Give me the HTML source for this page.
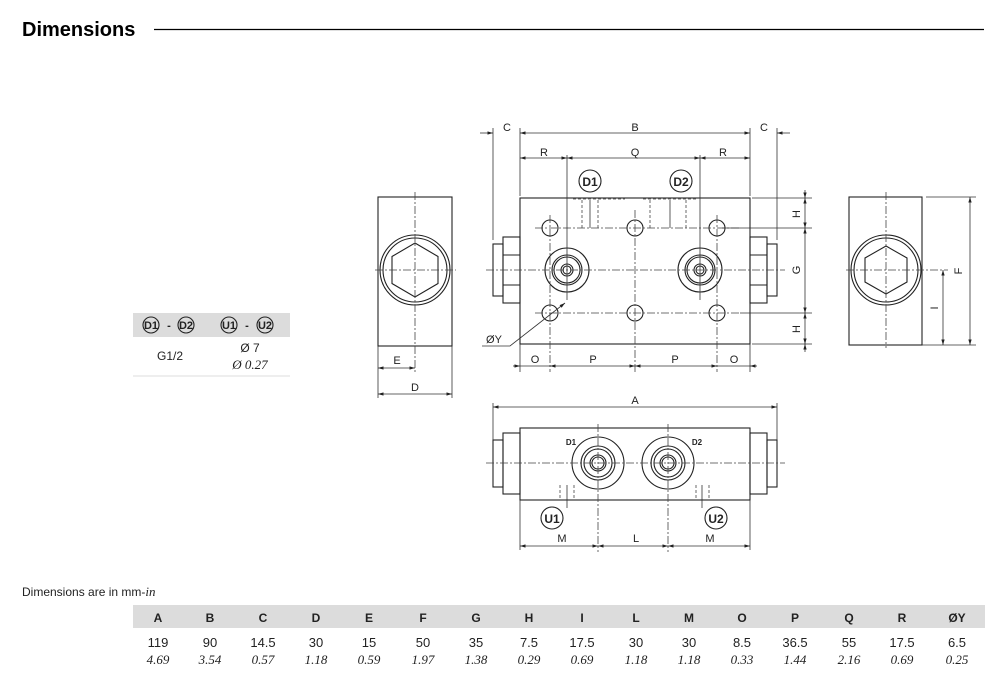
<!DOCTYPE html>
<html><head><meta charset="utf-8"><style>
body{margin:0;background:#fff;}
svg{display:block}
text{font-family:"Liberation Sans",sans-serif;fill:#222}
.l{stroke:#222;stroke-width:1.1;fill:none}
.t{stroke:#333;stroke-width:0.8;fill:none}
.c{stroke:#444;stroke-width:0.8;fill:none;stroke-dasharray:8 2 2 2}
.d{stroke:#444;stroke-width:0.8;fill:none;stroke-dasharray:3 2}
.lb{font-size:11px;text-anchor:middle}
.it,.it text{font-family:"Liberation Serif",serif;font-style:italic}
</style></head><body>
<svg width="1006" height="692" viewBox="0 0 1006 692" xmlns="http://www.w3.org/2000/svg">
<defs>
<marker id="a" viewBox="0 0 10 10" refX="10" refY="5" markerWidth="7" markerHeight="7" orient="auto-start-reverse"><path d="M0,2 L10,5 L0,8z" fill="#222"/></marker>
</defs>
<text x="22" y="36" style="font-size:20px;font-weight:bold;fill:#000">Dimensions</text>
<line x1="154" y1="29.5" x2="984" y2="29.5" stroke="#000" stroke-width="1.2"/>

<!-- FRONT VIEW -->
<rect x="520" y="198" width="230" height="146" class="l"/>
<g class="l">
<rect x="503" y="237" width="17" height="66"/><rect x="493" y="244" width="10" height="52"/>
<line x1="503" y1="255" x2="520" y2="255"/><line x1="503" y1="285" x2="520" y2="285"/>
<rect x="750" y="237" width="17" height="66"/><rect x="767" y="244" width="10" height="52"/>
<line x1="750" y1="255" x2="767" y2="255"/><line x1="750" y1="285" x2="767" y2="285"/>
<circle cx="567" cy="270" r="22"/><circle cx="567" cy="270" r="15"/><circle cx="567" cy="270" r="13"/><circle cx="567" cy="270" r="6"/><circle cx="567" cy="270" r="4"/>
<circle cx="700" cy="270" r="22"/><circle cx="700" cy="270" r="15"/><circle cx="700" cy="270" r="13"/><circle cx="700" cy="270" r="6"/><circle cx="700" cy="270" r="4"/>
<circle cx="550" cy="228" r="8"/><circle cx="635" cy="228" r="8"/><circle cx="717" cy="228" r="8"/>
<circle cx="550" cy="313" r="8"/><circle cx="635" cy="313" r="8"/><circle cx="717" cy="313" r="8"/>
</g>
<line x1="486" y1="270" x2="785" y2="270" class="c"/>
<line x1="535" y1="228" x2="740" y2="228" class="c"/>
<line x1="535" y1="313" x2="740" y2="313" class="c"/>
<line x1="635" y1="210" x2="635" y2="372" class="c"/>
<line x1="550" y1="215" x2="550" y2="372" class="c"/>
<line x1="717" y1="215" x2="717" y2="372" class="c"/>
<line x1="567" y1="155" x2="567" y2="300" class="t"/>
<line x1="700" y1="155" x2="700" y2="300" class="t"/>
<g class="d"><line x1="573" y1="199" x2="625" y2="199"/><line x1="643" y1="199" x2="697" y2="199"/>
<line x1="582" y1="200" x2="582" y2="228"/><line x1="598" y1="200" x2="598" y2="228"/><line x1="650" y1="200" x2="650" y2="228"/><line x1="686" y1="200" x2="686" y2="228"/></g>
<line x1="590" y1="200" x2="590" y2="228" class="t"/><line x1="670" y1="200" x2="670" y2="228" class="t"/>
<g class="t">
<line x1="493" y1="128" x2="493" y2="240"/><line x1="520" y1="128" x2="520" y2="196"/>
<line x1="750" y1="128" x2="750" y2="196"/><line x1="777" y1="128" x2="777" y2="240"/>
<line x1="480" y1="133" x2="493" y2="133" marker-end="url(#a)"/>
<line x1="520" y1="133" x2="750" y2="133" marker-start="url(#a)" marker-end="url(#a)"/>
<line x1="790" y1="133" x2="777" y2="133" marker-end="url(#a)"/>
<line x1="520" y1="158" x2="567" y2="158" marker-start="url(#a)" marker-end="url(#a)"/>
<line x1="567" y1="158" x2="700" y2="158" marker-start="url(#a)" marker-end="url(#a)"/>
<line x1="700" y1="158" x2="750" y2="158" marker-start="url(#a)" marker-end="url(#a)"/>
<line x1="752" y1="198" x2="812" y2="198"/><line x1="722" y1="228" x2="812" y2="228"/>
<line x1="740" y1="313" x2="812" y2="313"/><line x1="752" y1="344" x2="812" y2="344"/>
<line x1="805" y1="190" x2="805" y2="198" marker-end="url(#a)"/>
<line x1="805" y1="198" x2="805" y2="228" marker-start="url(#a)" marker-end="url(#a)"/>
<line x1="805" y1="228" x2="805" y2="313" marker-start="url(#a)" marker-end="url(#a)"/>
<line x1="805" y1="313" x2="805" y2="344" marker-start="url(#a)" marker-end="url(#a)"/>
<line x1="805" y1="352" x2="805" y2="344" marker-end="url(#a)"/>
<line x1="520" y1="344" x2="520" y2="372"/><line x1="750" y1="344" x2="750" y2="372"/>
<line x1="513" y1="366" x2="520" y2="366" marker-end="url(#a)"/>
<line x1="550" y1="366" x2="635" y2="366" marker-start="url(#a)" marker-end="url(#a)"/>
<line x1="635" y1="366" x2="717" y2="366" marker-start="url(#a)" marker-end="url(#a)"/>
<line x1="757" y1="366" x2="750" y2="366" marker-end="url(#a)"/>
<line x1="520" y1="366" x2="550" y2="366"/><line x1="717" y1="366" x2="750" y2="366"/>
<polyline points="482,346 510,346 565,303" marker-end="url(#a)"/>
</g>
<g class="lb">
<text x="507" y="131">C</text><text x="635" y="131">B</text><text x="764" y="131">C</text>
<text x="544" y="156">R</text><text x="635" y="156">Q</text><text x="723" y="156">R</text>
<text x="535" y="363">O</text><text x="593" y="363">P</text><text x="675" y="363">P</text><text x="734" y="363">O</text>
<text x="494" y="343">ØY</text>
</g>
<g class="lb">
<text transform="translate(800,214) rotate(-90)">H</text>
<text transform="translate(800,270) rotate(-90)">G</text>
<text transform="translate(800,329) rotate(-90)">H</text>
</g>
<circle cx="590" cy="181" r="11" class="l"/><text x="590" y="186" class="lb" style="font-weight:bold;font-size:12px">D1</text>
<circle cx="681" cy="181" r="11" class="l"/><text x="681" y="186" class="lb" style="font-weight:bold;font-size:12px">D2</text>

<!-- LEFT SIDE VIEW -->
<rect x="378" y="197" width="74" height="149" class="l"/>
<circle cx="415" cy="270" r="35" class="l"/><circle cx="415" cy="270" r="32" class="l"/>
<polygon points="415,243 438,256.5 438,283.5 415,297 392,283.5 392,256.5" class="l"/>
<line x1="375" y1="270" x2="456" y2="270" class="c"/>
<line x1="415" y1="192" x2="415" y2="372" class="c"/>
<g class="t"><line x1="378" y1="346" x2="378" y2="398"/><line x1="452" y1="346" x2="452" y2="398"/>
<line x1="378" y1="368" x2="415" y2="368" marker-start="url(#a)" marker-end="url(#a)"/>
<line x1="378" y1="394" x2="452" y2="394" marker-start="url(#a)" marker-end="url(#a)"/></g>
<text x="397" y="364" class="lb">E</text><text x="415" y="391" class="lb">D</text>

<!-- RIGHT SIDE VIEW -->
<rect x="849" y="197" width="73" height="148" class="l"/>
<circle cx="886" cy="270" r="35" class="l"/><circle cx="886" cy="270" r="32" class="l"/>
<polygon points="886,246 907,258 907,282 886,294 865,282 865,258" class="l"/>
<line x1="846" y1="270" x2="948" y2="270" class="c"/>
<line x1="886" y1="192" x2="886" y2="348" class="c"/>
<g class="t"><line x1="926" y1="197" x2="976" y2="197"/><line x1="922" y1="345" x2="976" y2="345"/>
<line x1="970" y1="197" x2="970" y2="345" marker-start="url(#a)" marker-end="url(#a)"/>
<line x1="943" y1="270" x2="943" y2="345" marker-start="url(#a)" marker-end="url(#a)"/></g>
<text transform="translate(962,271) rotate(-90)" class="lb">F</text>
<text transform="translate(938,308) rotate(-90)" class="lb">I</text>

<!-- SMALL TABLE -->
<rect x="133" y="313" width="157" height="24" fill="#dcdcdc"/>
<line x1="133" y1="376" x2="290" y2="376" stroke="#ddd"/>
<g style="font-size:11px;font-weight:bold" class="lb">
<circle cx="151" cy="325" r="8" class="l"/><text x="151" y="329">D1</text><text x="169" y="329">-</text>
<circle cx="186" cy="325" r="8" class="l"/><text x="186" y="329">D2</text>
<circle cx="229" cy="325" r="8" class="l"/><text x="229" y="329">U1</text><text x="247" y="329">-</text>
<circle cx="265" cy="325" r="8" class="l"/><text x="265" y="329">U2</text>
</g>
<text x="170" y="360" class="lb" style="font-size:12px">G1/2</text>
<text x="250" y="352" class="lb" style="font-size:12px">Ø 7</text>
<text x="250" y="369" class="lb it" style="font-size:13px">Ø 0.27</text>

<!-- BOTTOM VIEW -->
<rect x="520" y="428" width="230" height="72" class="l"/>
<g class="l">
<rect x="503" y="433" width="17" height="61"/><rect x="493" y="440" width="10" height="47"/>
<rect x="750" y="433" width="17" height="61"/><rect x="767" y="440" width="10" height="47"/>
<circle cx="598" cy="463" r="26"/><circle cx="598" cy="463" r="17"/><circle cx="598" cy="463" r="14"/><circle cx="598" cy="463" r="8"/><circle cx="598" cy="463" r="6"/>
<circle cx="668" cy="463" r="26"/><circle cx="668" cy="463" r="17"/><circle cx="668" cy="463" r="14"/><circle cx="668" cy="463" r="8"/><circle cx="668" cy="463" r="6"/>
</g>
<line x1="486" y1="463" x2="785" y2="463" class="c"/>
<line x1="598" y1="424" x2="598" y2="552" class="c"/>
<line x1="668" y1="424" x2="668" y2="552" class="c"/>
<g class="d"><line x1="560" y1="485" x2="560" y2="500"/><line x1="574" y1="485" x2="574" y2="500"/>
<line x1="696" y1="485" x2="696" y2="500"/><line x1="709" y1="485" x2="709" y2="500"/></g>
<line x1="567" y1="485" x2="567" y2="508" class="t"/><line x1="702" y1="485" x2="702" y2="508" class="t"/>
<text x="571" y="445" style="font-size:8px;font-weight:bold" class="lb">D1</text>
<text x="697" y="445" style="font-size:8px;font-weight:bold" class="lb">D2</text>
<g class="t">
<line x1="493" y1="403" x2="493" y2="440"/><line x1="777" y1="403" x2="777" y2="440"/>
<line x1="493" y1="407" x2="777" y2="407" marker-start="url(#a)" marker-end="url(#a)"/>
<line x1="520" y1="500" x2="520" y2="550"/><line x1="750" y1="500" x2="750" y2="550"/>
<line x1="520" y1="546" x2="598" y2="546" marker-start="url(#a)" marker-end="url(#a)"/>
<line x1="598" y1="546" x2="668" y2="546" marker-start="url(#a)" marker-end="url(#a)"/>
<line x1="668" y1="546" x2="750" y2="546" marker-start="url(#a)" marker-end="url(#a)"/>
</g>
<text x="635" y="404" class="lb">A</text>
<text x="562" y="542" class="lb">M</text><text x="636" y="542" class="lb">L</text><text x="710" y="542" class="lb">M</text>
<circle cx="552" cy="518" r="11" class="l"/><text x="552" y="523" class="lb" style="font-weight:bold;font-size:12px">U1</text>
<circle cx="716" cy="518" r="11" class="l"/><text x="716" y="523" class="lb" style="font-weight:bold;font-size:12px">U2</text>

<!-- MAIN TABLE -->
<text x="22" y="596" style="font-size:12px">Dimensions are in mm-<tspan style="font-size:13px;font-family:'Liberation Serif',serif;font-style:italic">in</tspan></text>
<rect x="133" y="605" width="852" height="23" fill="#dcdcdc"/>
<g style="font-size:12px" class="lb">
<g style="font-weight:bold">
<text x="158" y="622">A</text><text x="210" y="622">B</text><text x="263" y="622">C</text><text x="316" y="622">D</text><text x="369" y="622">E</text><text x="423" y="622">F</text><text x="476" y="622">G</text><text x="529" y="622">H</text><text x="582" y="622">I</text><text x="636" y="622">L</text><text x="689" y="622">M</text><text x="742" y="622">O</text><text x="795" y="622">P</text><text x="849" y="622">Q</text><text x="902" y="622">R</text><text x="957" y="622">ØY</text>
</g>
<g style="font-size:13px">
<text x="158" y="647">119</text><text x="210" y="647">90</text><text x="263" y="647">14.5</text><text x="316" y="647">30</text><text x="369" y="647">15</text><text x="423" y="647">50</text><text x="476" y="647">35</text><text x="529" y="647">7.5</text><text x="582" y="647">17.5</text><text x="636" y="647">30</text><text x="689" y="647">30</text><text x="742" y="647">8.5</text><text x="795" y="647">36.5</text><text x="849" y="647">55</text><text x="902" y="647">17.5</text><text x="957" y="647">6.5</text>
</g>
<g class="it" style="font-size:13px">
<text x="158" y="664">4.69</text><text x="210" y="664">3.54</text><text x="263" y="664">0.57</text><text x="316" y="664">1.18</text><text x="369" y="664">0.59</text><text x="423" y="664">1.97</text><text x="476" y="664">1.38</text><text x="529" y="664">0.29</text><text x="582" y="664">0.69</text><text x="636" y="664">1.18</text><text x="689" y="664">1.18</text><text x="742" y="664">0.33</text><text x="795" y="664">1.44</text><text x="849" y="664">2.16</text><text x="902" y="664">0.69</text><text x="957" y="664">0.25</text>
</g>
</g>
</svg>
</body></html>
